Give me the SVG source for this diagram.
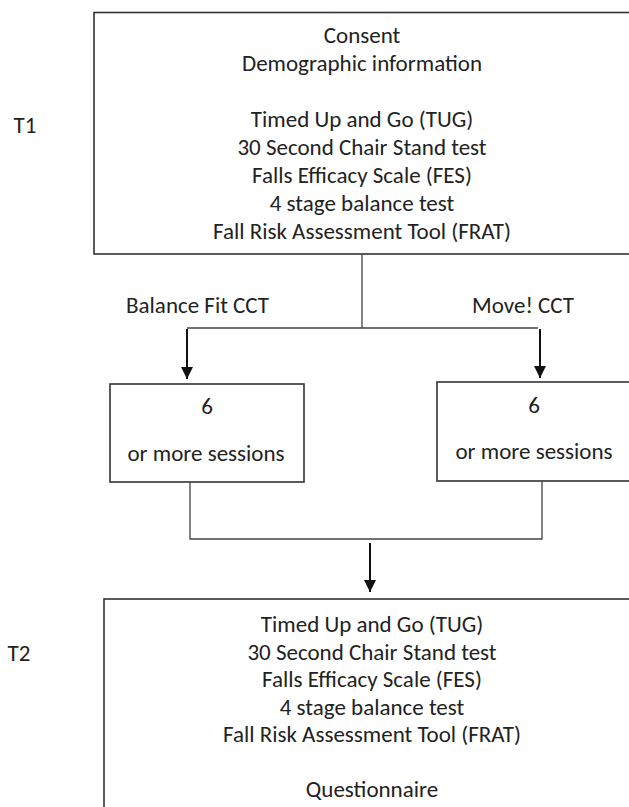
<svg xmlns="http://www.w3.org/2000/svg" width="629" height="807" viewBox="0 0 629 807">
<defs>
<style>
.box{fill:#fff;stroke:#333;stroke-width:1.6}
.ln{fill:none;stroke:#444;stroke-width:1.3}
.ar{fill:none;stroke:#111;stroke-width:2}
text{font-family:Carlito,Lato,"Open Sans",sans-serif;font-size:23px;fill:#222;text-anchor:middle}
</style>
<marker id="ah" markerUnits="userSpaceOnUse" markerWidth="14" markerHeight="14" viewBox="0 0 14 14" refX="12" refY="7" orient="auto">
<path d="M0,1 L12,7 L0,13 Z" fill="#111"/>
</marker>
</defs>
<rect width="629" height="807" fill="#fff"/>
<g id="t1"><text x="25" y="133">T1</text></g>
<g id="t2"><text x="19" y="661">T2</text></g>
<g id="top">
<rect class="box" x="94" y="12.5" width="560" height="241.5"/>
<text x="362" y="43">Consent</text>
<text x="362" y="71">Demographic information</text>
<text x="362" y="127">Timed Up and Go (TUG)</text>
<text x="362" y="155">30 Second Chair Stand test</text>
<text x="362" y="183">Falls Efficacy Scale (FES)</text>
<text x="362" y="211">4 stage balance test</text>
<text x="362" y="239">Fall Risk Assessment Tool (FRAT)</text>
</g>
<g id="left">
<rect class="box" x="110" y="384" width="194" height="98"/>
<text x="207" y="414">6</text>
<text x="206" y="461">or more sessions</text>
</g>
<g id="right">
<rect class="box" x="437" y="382" width="220" height="99"/>
<text x="534" y="413">6</text>
<text x="534" y="459">or more sessions</text>
</g>
<g id="bottom">
<rect class="box" x="104" y="599" width="560" height="230"/>
<text x="372" y="632">Timed Up and Go (TUG)</text>
<text x="372" y="659.5">30 Second Chair Stand test</text>
<text x="372" y="687">Falls Efficacy Scale (FES)</text>
<text x="372" y="714.5">4 stage balance test</text>
<text x="372" y="742">Fall Risk Assessment Tool (FRAT)</text>
<text x="372" y="797">Questionnaire</text>
</g>
<g id="connectors">
<path class="ln" d="M362,254 V328 M187,328 H538"/>
<path class="ar" d="M187,329 V379" marker-end="url(#ah)"/>
<path class="ar" d="M540,329 V378" marker-end="url(#ah)"/>
<path class="ln" d="M190,482 V539 H542 V481"/>
<path class="ar" d="M370,543 V592" marker-end="url(#ah)"/>
<text x="197.5" y="313">Balance Fit CCT</text>
<text x="523" y="313">Move! CCT</text>
</g>
</svg>
